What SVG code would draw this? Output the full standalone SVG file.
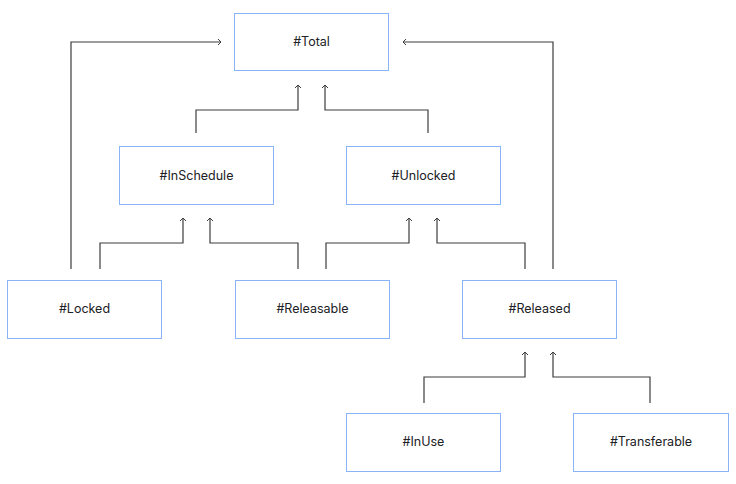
<svg xmlns="http://www.w3.org/2000/svg" width="736" height="484" viewBox="0 0 736 484">
<defs>
<style>
.box{fill:#fff;stroke:#8ab4f8;stroke-width:1}
.lbl{font-family:Inter,"Noto Sans",sans-serif;font-size:12.5px;fill:#202124;text-anchor:middle}
.c{fill:none;stroke:#3c3c3c;stroke-width:1.2}
</style>
<marker id="ah" markerUnits="userSpaceOnUse" markerWidth="10" markerHeight="10" refX="5" refY="5" orient="auto">
<path d="M2,2 L5,5 L2,8" fill="none" stroke="#3c3c3c" stroke-width="1"/>
</marker>
</defs>
<rect width="736" height="484" fill="#fff"/>
<g id="connectors">
<path class="c" d="M196,133 V110 H298 V85" marker-end="url(#ah)"/>
<path class="c" d="M428,133 V110 H325 V85" marker-end="url(#ah)"/>
<path class="c" d="M100,269 V243 H183 V218" marker-end="url(#ah)"/>
<path class="c" d="M298,269 V243 H210 V218" marker-end="url(#ah)"/>
<path class="c" d="M326,269 V243 H409 V218" marker-end="url(#ah)"/>
<path class="c" d="M525,269 V243 H437 V218" marker-end="url(#ah)"/>
<path class="c" d="M71,269 V42 H221" marker-end="url(#ah)"/>
<path class="c" d="M553,269 V42 H403" marker-end="url(#ah)"/>
<path class="c" d="M424,403 V377 H525 V352" marker-end="url(#ah)"/>
<path class="c" d="M650,403 V377 H553 V352" marker-end="url(#ah)"/>
</g>
<g id="total"><rect class="box" x="234.5" y="13.5" width="154" height="57"/><text class="lbl" x="311.5" y="46">#Total</text></g>
<g id="inschedule"><rect class="box" x="119.5" y="146.5" width="154" height="58"/><text class="lbl" x="196.5" y="180">#InSchedule</text></g>
<g id="unlocked"><rect class="box" x="346.5" y="146.5" width="154" height="58"/><text class="lbl" x="423.5" y="180">#Unlocked</text></g>
<g id="locked"><rect class="box" x="7.5" y="280.5" width="154" height="58"/><text class="lbl" x="84.5" y="313">#Locked</text></g>
<g id="releasable"><rect class="box" x="235.5" y="280.5" width="154" height="58"/><text class="lbl" x="312.5" y="313">#Releasable</text></g>
<g id="released"><rect class="box" x="462.5" y="280.5" width="154" height="58"/><text class="lbl" x="539.5" y="313">#Released</text></g>
<g id="inuse"><rect class="box" x="346.5" y="413.5" width="154" height="58"/><text class="lbl" x="423.5" y="446">#InUse</text></g>
<g id="transferable"><rect class="box" x="573.5" y="413.5" width="155" height="58"/><text class="lbl" x="651" y="446">#Transferable</text></g>
</svg>
